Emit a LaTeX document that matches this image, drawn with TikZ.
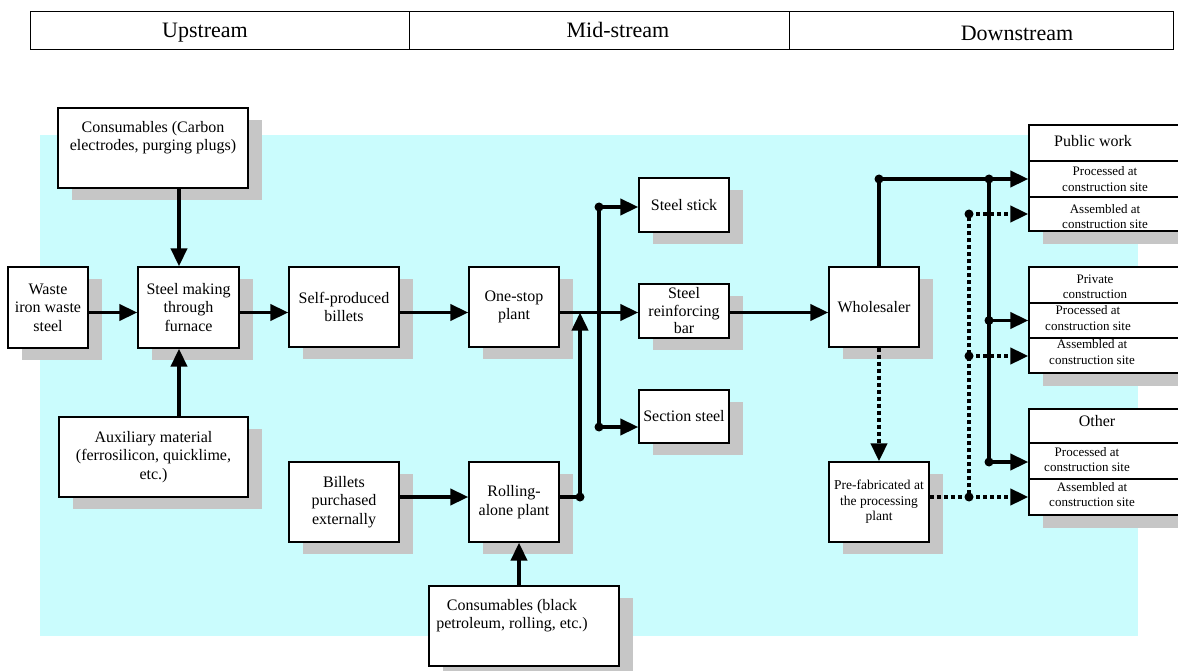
\documentclass[tikz,border=0pt]{standalone}
\usepackage{fontspec}
\setmainfont{Liberation Serif}
\usetikzlibrary{arrows.meta,shadows}
\definecolor{bgcyan}{RGB}{202,252,253}
\definecolor{shade}{RGB}{198,198,198}
\begin{document}
\begin{tikzpicture}[x=1pt,y=-1pt,
  box/.style={draw,fill=white,line width=1.3pt,align=center,inner sep=0pt,
    font=\fontsize{16}{18.5}\selectfont,
    general shadow={fill=shade,shadow xshift=14pt,shadow yshift=-12pt}},
  grp/.style={draw,fill=white,line width=1.3pt,inner sep=0pt,minimum width=171pt,
    general shadow={fill=shade,shadow xshift=14pt,shadow yshift=-13pt}},
  row/.style={draw,line width=1.3pt,inner sep=0pt,minimum width=171pt},
  big/.style={align=center,inner sep=0pt,font=\fontsize{16}{18}\selectfont},
  small/.style={align=center,inner sep=0pt,font=\fontsize{13}{15.5}\selectfont},
  hdr/.style={draw,line width=1pt,inner sep=0pt,minimum height=38pt},
  htxt/.style={inner sep=0pt,font=\fontsize{22}{24}\selectfont},
  ln/.style={line width=3.8pt},
  arr/.style={ln,-{Triangle[length=18pt,width=16pt]}},
  dln/.style={line width=4pt,dash pattern=on 4pt off 3pt},
  darr/.style={dln,-{Triangle[length=18pt,width=16pt]}},
  dotr/.style={fill=black}
]
\useasboundingbox (0,0) rectangle (1178,671);
\clip (0,0) rectangle (1178,671);
\fill[white] (0,0) rectangle (1178,671);
% background
\fill[bgcyan] (40,135) rectangle (1138,636);

% header
\node[hdr,minimum width=379pt] (h1) at (219.5,31) {};
\node[hdr,minimum width=380pt] (h2) at (599,31) {};
\node[hdr,minimum width=384pt] (h3) at (981,31) {};
\node[htxt] (h1t) at (205,33) {Upstream};
\node[htxt] (h2t) at (618,30) {Mid-stream};
\node[htxt] (h3t) at (1017,33) {Downstream};

% upstream boxes
\node[box,minimum width=190pt,minimum height=80pt] (cons1) at (153,148)
  {Consumables (Carbon\\electrodes, purging plugs)\\\strut};
\node[box,minimum width=80pt,minimum height=81pt] (waste) at (48,307.5)
  {Waste\\iron waste\\steel};
\node[box,minimum width=101pt,minimum height=81pt] (sm) at (188.5,307.5)
  {\raisebox{-6pt}{\parbox{95pt}{\centering Steel making\\through\\furnace}}};
\node[box,minimum width=189pt,minimum height=80pt] (aux) at (153.5,457)
  {Auxiliary material\\(ferrosilicon, quicklime,\\etc.)};
\node[box,minimum width=110pt,minimum height=80pt] (sp) at (344,307)
  {Self-produced\\billets};
\node[box,minimum width=110pt,minimum height=80pt] (bp) at (344,502)
  {Billets\\purchased\\externally};

% midstream boxes
\node[box,minimum width=90pt,minimum height=80pt] (os) at (514,307)
  {One-stop\\plant};
\node[box,minimum width=90pt,minimum height=80pt] (ra) at (514,502)
  {Rolling-\\alone plant};
\node[box,minimum width=190pt,minimum height=80pt] (cons2) at (524,626)
  {\hspace*{-24pt}Consumables (black\\\hspace*{-24pt}petroleum, rolling, etc.)\\\strut};
\node[box,minimum width=90pt,minimum height=54pt] (stick) at (684,205)
  {Steel stick};
\node[box,minimum width=90pt,minimum height=54pt,font=\fontsize{16}{17.5}\selectfont] (rb) at (684,311)
  {Steel\\reinforcing\\bar};
\node[box,minimum width=90pt,minimum height=53pt] (sec) at (684,416.5)
  {Section steel};

% downstream boxes
\node[box,minimum width=90pt,minimum height=80pt] (ws) at (874,307)
  {Wholesaler};
\node[box,minimum width=100pt,minimum height=80pt,font=\fontsize{13.5}{15.5}\selectfont] (pf) at (879,502)
  {Pre-fabricated at\\the processing\\plant};

% right groups
\node[grp,minimum height=106pt] (pubG) at (1114.5,178) {};
\node[row,minimum height=36pt] (pubT) at (1114.5,143) {};
\node[row,minimum height=36pt] (pubP) at (1114.5,179) {};
\node[row,minimum height=34pt] (pubA) at (1114.5,214) {};
\node[big] (pubTt) at (1093,141) {Public work};
\node[small] (pubPt) at (1105,179) {Processed at\\construction site};
\node[small] (pubAt) at (1105,216.5) {Assembled at\\construction site};

\node[grp,minimum height=106pt] (privG) at (1114.5,320) {};
\node[row,minimum height=36pt] (privT) at (1114.5,285) {};
\node[row,minimum height=35pt] (privP) at (1114.5,320.5) {};
\node[row,minimum height=35pt] (privA) at (1114.5,355.5) {};
\node[small] (privTt) at (1095,287) {Private\\construction};
\node[small] (privPt) at (1088,318) {Processed at\\construction site};
\node[small] (privAt) at (1092,352) {Assembled at\\construction site};

\node[grp,minimum height=106pt] (othG) at (1114.5,462) {};
\node[row,minimum height=34pt] (othT) at (1114.5,426) {};
\node[row,minimum height=36pt] (othP) at (1114.5,461) {};
\node[row,minimum height=36pt] (othA) at (1114.5,497) {};
\node[big] (othTt) at (1097,421) {Other};
\node[small] (othPt) at (1087,459.5) {Processed at\\construction site};
\node[small] (othAt) at (1092,494.5) {Assembled at\\construction site};

% helper coordinates
\coordinate (cx) at (179,0);
\coordinate (ry) at (0,312.5);
\coordinate (by) at (0,497);
\coordinate (px) at (519,0);
\coordinate (t1) at (599,207);
\coordinate (t2) at (599,427);
\coordinate (r1) at (580,497);
\coordinate (r2) at (580,312.5);
\coordinate (w1) at (879,179);
\coordinate (w2) at (989,179);
\coordinate (w3) at (989,320.5);
\coordinate (w4) at (989,462);
\coordinate (d1) at (969,214);
\coordinate (d2) at (969,356);
\coordinate (d3) at (969,497);

% upstream connectors
\draw[arr] (cons1.south -| cx) -- (sm.north -| cx);
\draw[arr] (aux.north -| cx) -- (sm.south -| cx);
\draw[arr] (waste.east |- ry) -- (sm.west |- ry);
\draw[arr] (sm.east |- ry) -- (sp.west |- ry);
\draw[arr] (sp.east |- ry) -- (os.west |- ry);
\draw[arr] (bp.east |- by) -- (ra.west |- by);
\draw[arr] (cons2.north -| px) -- (ra.south -| px);

% midstream connectors
\draw[arr] (os.east |- ry) -- (rb.west |- ry);
\draw[ln] (t1) -- (t2);
\draw[arr] (t1) -- (stick.west |- t1);
\draw[arr] (t2) -- (sec.west |- t2);
\draw[ln] (ra.east |- r1) -- (r1);
\draw[arr] (r1) -- (r2);
\fill[dotr] (t1) circle (4.5pt);
\fill[dotr] (t2) circle (4.5pt);
\fill[dotr] (r1) circle (4.5pt);
\draw[arr] (rb.east |- ry) -- (ws.west |- ry);

% downstream dotted connectors
\draw[darr] (ws.south -| w1) -- (pf.north -| w1);
\draw[dln] (pf.east |- d3) -- (d3) -- (d1);
\draw[darr] (d1) -- (pubA.west |- d1);
\draw[darr] (d2) -- (privA.west |- d2);
\draw[darr] (d3) -- (othA.west |- d3);
\fill[dotr] (d1) circle (4.5pt);
\fill[dotr] (d2) circle (4.5pt);
\fill[dotr] (d3) circle (4.5pt);

% downstream solid connectors
\draw[ln] (ws.north -| w1) -- (w1) -- (w2) -- (w4);
\draw[arr] (w2) -- (pubP.west |- w2);
\draw[arr] (w3) -- (privP.west |- w3);
\draw[arr] (w4) -- (othP.west |- w4);
\fill[dotr] (w1) circle (4.5pt);
\fill[dotr] (w2) circle (4.5pt);
\fill[dotr] (w3) circle (4.5pt);
\fill[dotr] (w4) circle (4.5pt);
\end{tikzpicture}
\end{document}
